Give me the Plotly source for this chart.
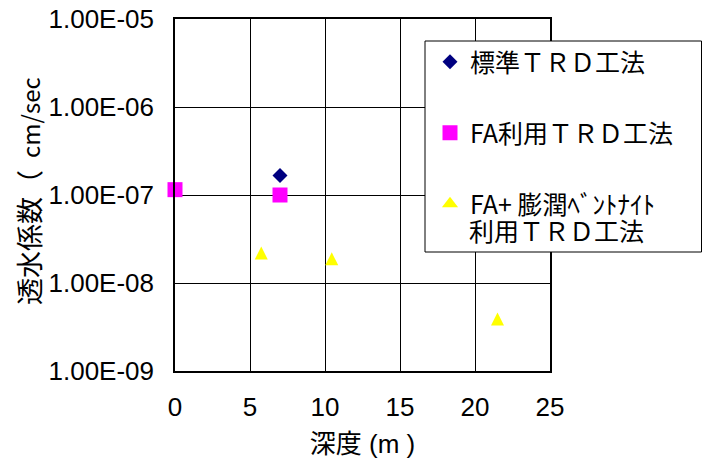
import plotly.graph_objects as go

# Permeability coefficient versus depth for three TRD construction methods
std_depth = [7.0]
std_k = [1.67e-7]

fa_depth = [0.0, 7.0]
fa_k = [1.15e-7, 1.0e-7]

fab_depth = [5.75, 10.45, 21.5]
fab_k = [2.19e-8, 1.88e-8, 3.9e-9]

y_tickvals = [1e-9, 1e-8, 1e-7, 1e-6, 1e-5]
y_ticktext = ["1.00E-09", "1.00E-08", "1.00E-07", "1.00E-06", "1.00E-05"]
x_tickvals = [0, 5, 10, 15, 20, 25]

names = ["標準ＴＲＤ工法", "FA利用ＴＲＤ工法", "FA+ 膨潤ﾍﾞﾝﾄﾅｲﾄ"]
name_cont = "利用ＴＲＤ工法"   # second line of the third legend label

FONT = "Liberation Sans, Arial, Noto Sans CJK JP"
CJK = "Noto Sans CJK JP, Liberation Sans"
YELLOW = "#FFFF00"

# plot area in pixels: x 175..550, y 19..371
PL, PR, PT, PB = 175, 550, 19, 371


def px_x(px):
    return (px - PL) / (PR - PL)


def px_y(py):
    return (PB - py) / (PB - PT)


fig = go.Figure()
fig.add_trace(go.Scatter(
    x=std_depth, y=std_k, mode="markers", name=names[0], legendgroup="a",
    cliponaxis=False,
    marker=dict(symbol="diamond", size=11.5, color="#000080"),
))
fig.add_trace(go.Scatter(
    x=fa_depth, y=fa_k, mode="markers", name=names[1], legendgroup="b",
    cliponaxis=False,
    marker=dict(symbol="square", size=15, color="#FF00FF"),
))
# equilateral-looking triangles centred on the data point
TRI = 13
fig.add_trace(go.Scatter(
    x=fab_depth, y=fab_k, mode="markers", name=names[2], legendgroup="c",
    cliponaxis=False, showlegend=False,
    marker=dict(symbol="arrow-down", angle=180, standoff=TRI / 2, size=TRI,
                color=YELLOW),
))
# legend key for the triangle series
fig.add_trace(go.Scatter(
    x=[None], y=[None], mode="markers", name=names[2], legendgroup="c",
    marker=dict(symbol="triangle-up", size=14, color=YELLOW),
))

# legend frame (white box that hides the grid behind it)
fig.add_shape(
    type="rect", xref="paper", yref="paper", layer="above",
    x0=px_x(425), x1=px_x(701.5), y0=px_y(252), y1=px_y(41),
    fillcolor="white", line=dict(color="black", width=1),
)
fig.add_annotation(
    xref="paper", yref="paper", x=px_x(467), y=px_y(230),
    xanchor="left", yanchor="middle", showarrow=False,
    text=name_cont, font=dict(family=CJK, size=25, color="black"),
)
# y-axis title
fig.add_annotation(
    xref="paper", yref="paper", x=px_x(28), y=px_y(191),
    xanchor="center", yanchor="middle", showarrow=False, textangle=-90,
    text="透水係数（\u00a0\u00a0<span style='font-size:24px'>cm/sec</span>",
    font=dict(family=CJK, size=27, color="black"),
)

fig.update_layout(
    width=703, height=459,
    margin=dict(l=PL, r=703 - PR, t=PT, b=459 - PB, autoexpand=False),
    paper_bgcolor="white", plot_bgcolor="white",
    font=dict(family=FONT, size=26, color="black"),
    showlegend=True,
    legend=dict(
        x=px_x(430), y=px_y(39), xanchor="left", yanchor="top",
        bgcolor="rgba(0,0,0,0)", borderwidth=0,
        font=dict(family=CJK, size=25, color="black"),
        tracegroupgap=35.5, itemwidth=30,
    ),
)
fig.update_xaxes(
    range=[0, 25], tickvals=x_tickvals, ticks="", automargin=False,
    showgrid=True, gridcolor="black", gridwidth=1.3,
    showline=True, linecolor="black", linewidth=1.5, mirror=True,
    zeroline=False, ticklabelstandoff=12,
    title=dict(text="深度 (m )", font=dict(family=FONT, size=26), standoff=21),
)
fig.update_yaxes(
    type="log", range=[-9, -5], tickvals=y_tickvals, ticktext=y_ticktext,
    ticks="", automargin=False, showgrid=True, gridcolor="black", gridwidth=1.3,
    showline=True, linecolor="black", linewidth=1.5, mirror=True,
    zeroline=False, ticklabelstandoff=14,
)

fig.write_html("out.html")
